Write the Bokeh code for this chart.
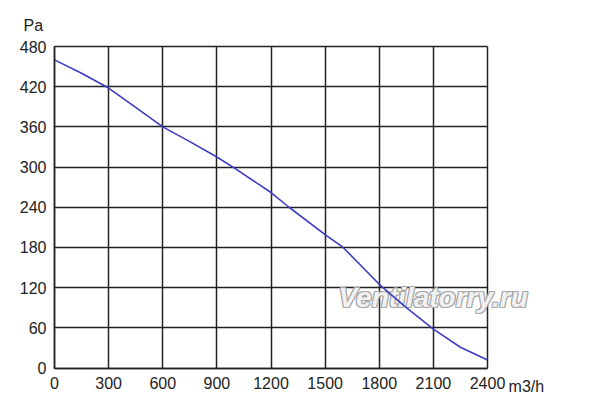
from bokeh.plotting import figure
from bokeh.models import Range1d, FixedTicker, Label
from bokeh.embed import file_html
from bokeh.resources import INLINE

# Data
flow = [0, 150, 300, 450, 600, 750, 900, 1000, 1200, 1300, 1500, 1600, 1800, 1950, 2100, 2250, 2400]
pressure = [460, 440, 418, 389, 360, 338, 315, 298, 262, 240, 199, 180, 125, 90, 58, 31, 12]

x_ticks = [0, 300, 600, 900, 1200, 1500, 1800, 2100, 2400]
y_ticks = [0, 60, 120, 180, 240, 300, 360, 420, 480]

FONT = "Liberation Sans"

W, H = 592, 404
# frame occupies whole canvas; data box mapped to pixels 54..487 (x), 46..367.5 (y)
px_l, px_r, px_t, px_b = 54, 487, 46, 367.5
sx = 2400 / (px_r - px_l)
sy = 480 / (px_b - px_t)
x0 = -px_l * sx
x1 = 2400 + (W - px_r) * sx
y1 = 480 + px_t * sy
y0 = -(H - px_b) * sy

p = figure(width=W, height=H, output_backend="svg", toolbar_location=None,
           x_range=Range1d(x0, x1), y_range=Range1d(y0, y1),
           min_border_left=0, min_border_right=0, min_border_top=0, min_border_bottom=0)
p.background_fill_color = "white"
p.border_fill_color = "white"
p.outline_line_color = None

for ax, ticks, bnds in ((p.xaxis, x_ticks, (0, 2400)), (p.yaxis, y_ticks, (0, 480))):
    ax.ticker = FixedTicker(ticks=ticks)
    ax.fixed_location = 0
    ax.bounds = bnds
    ax.major_tick_in = 0
    ax.major_tick_out = 0
    ax.minor_tick_in = 0
    ax.minor_tick_out = 0
    ax.axis_line_color = "#222222"
    ax.axis_line_width = 1.5
    ax.major_label_text_font = FONT
    ax.major_label_text_font_size = "16px"
    ax.major_label_text_color = "#222222"
p.xaxis.major_label_standoff = 9
p.yaxis.major_label_standoff = 8

p.xgrid.ticker = FixedTicker(ticks=x_ticks)
p.ygrid.ticker = FixedTicker(ticks=y_ticks)
p.xgrid.bounds = (0, 2400)
p.xgrid.cross_bounds = (0, 480)
p.ygrid.bounds = (0, 480)
p.ygrid.cross_bounds = (0, 2400)
for g in (p.xgrid, p.ygrid):
    g.grid_line_color = "#222222"
    g.grid_line_width = 1.5
    g.grid_line_alpha = 1.0

# Watermark with outline effect (under the curve, over the grid)
wm_x, wm_y = 1574, 82
for dx, dy in [(-1, 0), (1, 0), (0, -1), (0, 1), (-1, -1), (1, 1), (-1, 1), (1, -1)]:
    p.add_layout(Label(x=wm_x, y=wm_y, text="Ventilatorry.ru", text_font=FONT,
                       text_font_style="bold italic", text_font_size="28px",
                       text_color="#a8a8a8", x_offset=dx, y_offset=dy,
                       level="underlay"))
p.add_layout(Label(x=wm_x, y=wm_y, text="Ventilatorry.ru", text_font=FONT,
                   text_font_style="bold italic", text_font_size="28px",
                   text_color="white", text_alpha=0.85, level="underlay"))

p.line(flow, pressure, line_color="#3c3cc4", line_width=1.6)

p.add_layout(Label(x=-172, y=511.5, text="Pa", text_font=FONT, text_font_size="16px",
                   text_color="#222222", text_baseline="alphabetic"))
p.add_layout(Label(x=2517, y=-27, text="m3/h", text_font=FONT, text_font_size="16px",
                   text_color="#222222", text_baseline="alphabetic"))

open("out.html", "w").write(file_html(p, INLINE))
